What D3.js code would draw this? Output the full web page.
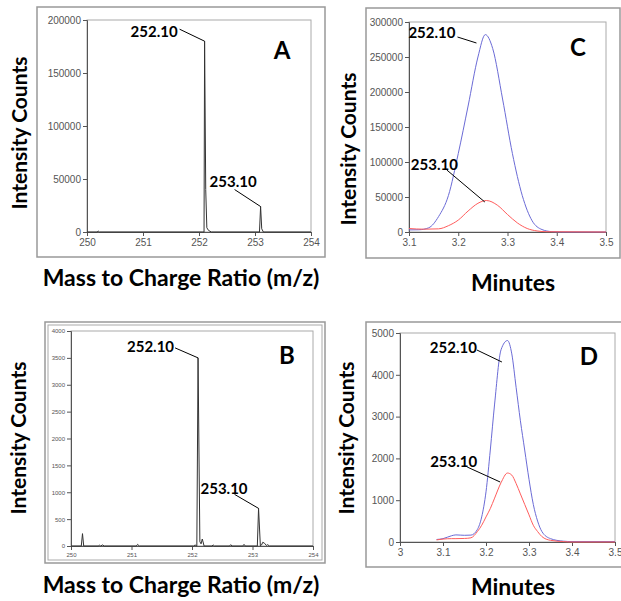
<!DOCTYPE html>
<html>
<head>
<meta charset="utf-8">
<script src="https://cdn.jsdelivr.net/npm/d3@7"></script>
<style>
  body { margin: 0; background: #fff; }
  .tick text { font-family: "Liberation Sans Narrow", "Liberation Sans", Arial, sans-serif; fill: #555; }
  .tick line, .domain { stroke: #555; }
</style>
</head>
<body>
<div id="chart-area"></div>
<script>
// panel A - mass spectrum (high level)
var specA_mz  = [250, 250.18, 250.2, 250.22, 252.07, 252.09, 252.1, 252.12, 252.14, 252.17, 252.22, 253.08, 253.1, 253.12, 253.15, 254];
var specA_int = [0, 0, 900, 0, 0, 0, 180000, 40000, 4000, 1500, 0, 0, 24000, 3000, 0, 0];
var ticksA_x = [250, 251, 252, 253, 254];
var ticksA_y = [0, 50000, 100000, 150000, 200000];

// panel B - mass spectrum (low level)
var specB_mz  = [250, 250.17, 250.19, 250.21, 250.45, 250.47, 250.49, 250.52, 250.55, 251.08, 251.1, 251.13, 252.03, 252.05, 252.08, 252.1, 252.13, 252.15, 252.17, 252.2, 252.33, 252.35, 252.37, 252.62, 252.64, 252.66, 252.84, 252.86, 252.88, 253.08, 253.1, 253.13, 253.15, 253.17, 253.2, 253.23, 253.25, 253.28, 254];
var specB_int = [0, 0, 230, 0, 0, 15, 0, 20, 0, 0, 30, 0, 0, 20, 0, 3500, 80, 40, 130, 0, 0, 20, 0, 0, 25, 0, 0, 30, 0, 0, 700, 0, 20, 70, 50, 10, 25, 0, 0];
var ticksB_x = [250, 251, 252, 253, 254];
var ticksB_y = [0, 500, 1000, 1500, 2000, 2500, 3000, 3500, 4000];

// panel C - chromatogram (high level)
var timeC   = [3.10, 3.12, 3.14, 3.16, 3.18, 3.20, 3.22, 3.24, 3.255, 3.27, 3.29, 3.31, 3.33, 3.35, 3.37, 3.39, 3.41, 3.50];
var blueC   = [3000, 3200, 6000, 22000, 52000, 112000, 180000, 250000, 282000, 262000, 190000, 112000, 52000, 16000, 3500, 500, 0, 0];
var timeC2  = [3.10, 3.13, 3.16, 3.18, 3.20, 3.22, 3.24, 3.257, 3.28, 3.30, 3.32, 3.34, 3.36, 3.38, 3.50];
var redC    = [5000, 4000, 4500, 9000, 17000, 30000, 41000, 45000, 38000, 25000, 13000, 5000, 1500, 400, 0];
var ticksC_x = [3.1, 3.2, 3.3, 3.4, 3.5];
var ticksC_y = [0, 50000, 100000, 150000, 200000, 250000, 300000];

// panel D - chromatogram (low level)
var timeD = [3.085, 3.10, 3.12, 3.13, 3.15, 3.165, 3.18, 3.19, 3.20, 3.21, 3.22, 3.235, 3.25, 3.26, 3.27, 3.28, 3.29, 3.30, 3.31, 3.32, 3.33, 3.35, 3.38, 3.40, 3.50];
var blueD = [60, 80, 150, 170, 160, 165, 300, 600, 1200, 2200, 3300, 4600, 4820, 4500, 3700, 2900, 2200, 1500, 900, 500, 250, 80, 20, 10, 10];
var redD  = [50, 70, 80, 80, 85, 100, 250, 400, 600, 800, 1050, 1420, 1650, 1600, 1400, 1150, 900, 650, 400, 250, 130, 40, 10, 0, 0];
var ticksD_x = [3, 3.1, 3.2, 3.3, 3.4, 3.5];
var ticksD_y = [0, 1000, 2000, 3000, 4000, 5000];

var svg = d3.select('#chart-area')
    .append('svg')
        .attr('width', 621)
        .attr('height', 601);

var titleFont = 'Lato, "Open Sans", sans-serif';

function drawPanel(p) {
    var g = svg.append('g');

    // outer frame
    g.append('rect')
        .attr('x', p.frame[0]).attr('y', p.frame[1])
        .attr('width', p.frame[2] - p.frame[0]).attr('height', p.frame[3] - p.frame[1])
        .attr('fill', 'none').attr('stroke', '#999').attr('stroke-width', 1.5);
    if (p.double) {
        g.append('rect')
            .attr('x', p.frame[0] + 3).attr('y', p.frame[1] + 3)
            .attr('width', p.frame[2] - p.frame[0] - 6).attr('height', p.frame[3] - p.frame[1] - 6)
            .attr('fill', 'none').attr('stroke', '#aaa').attr('stroke-width', 1);
    }

    var x = d3.scaleLinear().domain(p.xDomain).range([p.plot[0], p.plot[2]]);
    var y = d3.scaleLinear().domain(p.yDomain).range([p.plot[3], p.plot[1]]);

    // plot box
    g.append('rect')
        .attr('x', p.plot[0]).attr('y', p.plot[1])
        .attr('width', p.plot[2] - p.plot[0]).attr('height', p.plot[3] - p.plot[1])
        .attr('fill', 'none').attr('stroke', '#aaa').attr('stroke-width', 1);

    var xAxisCall = d3.axisBottom(x)
        .tickValues(p.xTicks)
        .tickSizeOuter(0)
        .tickSize(4)
        .tickFormat(d => String(d));
    g.append('g')
        .attr('transform', 'translate(0,' + p.plot[3] + ')')
        .call(xAxisCall)
        .selectAll('text').attr('font-size', p.tickSize + 'px');

    var yAxisCall = d3.axisLeft(y)
        .tickValues(p.yTicks)
        .tickSizeOuter(0)
        .tickSize(4)
        .tickPadding(2)
        .tickFormat(d3.format('d'));
    g.append('g')
        .attr('transform', 'translate(' + p.plot[0] + ',0)')
        .call(yAxisCall)
        .selectAll('text').attr('font-size', p.tickSize + 'px');

    var line = d3.line()
        .x(d => x(d[0]))
        .y(d => y(d[1]))
        .curve(p.curve);

    p.series.forEach(s => {
        g.append('path')
            .datum(d3.zip(s.x, s.y))
            .attr('d', line)
            .attr('fill', 'none')
            .attr('stroke', s.color)
            .attr('stroke-width', s.width || 1);
    });

    // peak annotations
    p.notes.forEach(n => {
        var tx = x(n.at[0]), ty = y(n.at[1]);
        g.append('line')
            .attr('x1', tx + n.lead[0]).attr('y1', ty + n.lead[1])
            .attr('x2', tx).attr('y2', ty)
            .attr('stroke', '#000').attr('stroke-width', 1);
        g.append('text')
            .attr('x', tx + n.text[0]).attr('y', ty + n.text[1])
            .attr('text-anchor', 'end')
            .attr('font-family', titleFont)
            .attr('font-weight', 'bold')
            .attr('font-size', '15px')
            .text(n.label);
    });

    // panel letter
    g.append('text')
        .attr('x', p.letterPos[0]).attr('y', p.letterPos[1])
        .attr('text-anchor', 'middle')
        .attr('font-family', titleFont)
        .attr('font-weight', 'bold')
        .attr('font-size', '24px')
        .text(p.letter);

    // Y-Axis Label
    g.append('text')
        .attr('text-anchor', 'middle')
        .attr('transform', 'translate(' + p.yLabelPos[0] + ',' + p.yLabelPos[1] + ') rotate(-90)')
        .attr('font-family', titleFont)
        .attr('font-weight', 'bold')
        .attr('font-size', '21px')
        .text('Intensity Counts');

    // X-Axis Label
    g.append('text')
        .attr('text-anchor', 'middle')
        .attr('x', p.xLabelPos[0]).attr('y', p.xLabelPos[1])
        .attr('font-family', titleFont)
        .attr('font-weight', 'bold')
        .attr('font-size', '23px')
        .text(p.xLabel);
}

drawPanel({
    frame: [37, 7, 325, 257], plot: [87, 20, 311, 232],
    xDomain: [250, 254], yDomain: [0, 200000],
    xTicks: ticksA_x, yTicks: ticksA_y, tickSize: 10,
    curve: d3.curveLinear,
    series: [{ x: specA_mz, y: specA_int, color: '#333' }],
    notes: [
        { label: '252.10', at: [252.1, 180000], lead: [-25, -12], text: [-27, -4] },
        { label: '253.10', at: [253.1, 24000], lead: [-26, -17], text: [-4, -20] }
    ],
    letter: 'A', letterPos: [282, 59],
    yLabelPos: [27, 133], xLabelPos: [181, 286], xLabel: 'Mass to Charge Ratio (m/z)'
});

drawPanel({
    frame: [45, 322, 325, 563], double: true, plot: [71, 331, 313, 546],
    xDomain: [250, 254], yDomain: [0, 4000],
    xTicks: ticksB_x, yTicks: ticksB_y, tickSize: 6,
    curve: d3.curveLinear,
    series: [{ x: specB_mz, y: specB_int, color: '#333' }],
    notes: [
        { label: '252.10', at: [252.1, 3500], lead: [-23, -10], text: [-24, -6] },
        { label: '253.10', at: [253.1, 700], lead: [-24, -14], text: [-11, -14] }
    ],
    letter: 'B', letterPos: [287, 364],
    yLabelPos: [26, 438], xLabelPos: [181, 593], xLabel: 'Mass to Charge Ratio (m/z)'
});

drawPanel({
    frame: [366, 8, 620, 258], plot: [409, 22, 606, 232],
    xDomain: [3.1, 3.5], yDomain: [0, 300000],
    xTicks: ticksC_x, yTicks: ticksC_y, tickSize: 10,
    curve: d3.curveMonotoneX,
    series: [
        { x: timeC, y: blueC, color: '#6b6bd6' },
        { x: timeC2, y: redC, color: '#ff5c5c' }
    ],
    notes: [
        { label: '252.10', at: [3.237, 270000], lead: [-19, -6], text: [-21, -5] },
        { label: '253.10', at: [3.254, 42800], lead: [-38, -32], text: [-27, -32] }
    ],
    letter: 'C', letterPos: [578, 56],
    yLabelPos: [356, 149], xLabelPos: [513, 291], xLabel: 'Minutes'
});

drawPanel({
    frame: [366, 322, 625, 567], plot: [400, 333, 615, 542],
    xDomain: [3, 3.5], yDomain: [0, 5000],
    xTicks: ticksD_x, yTicks: ticksD_y, tickSize: 10,
    curve: d3.curveMonotoneX,
    series: [
        { x: timeD, y: blueD, color: '#6b6bd6' },
        { x: timeD, y: redD, color: '#ff5c5c' }
    ],
    notes: [
        { label: '252.10', at: [3.237, 4306], lead: [-25, -12], text: [-25, -9] },
        { label: '253.10', at: [3.233, 1435], lead: [-33, -15], text: [-23, -15] }
    ],
    letter: 'D', letterPos: [589, 365],
    yLabelPos: [354, 438], xLabelPos: [513, 595], xLabel: 'Minutes'
});
</script>
</body>
</html>
